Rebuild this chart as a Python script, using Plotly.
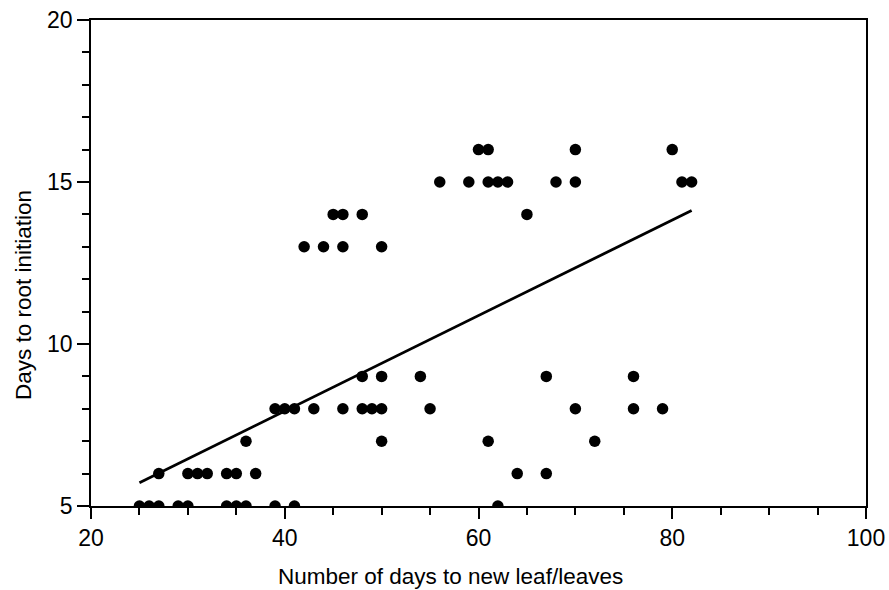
import plotly.graph_objects as go

# Observations: days to new leaf/leaves (x) vs days to root initiation (y)
x_y5 = [25, 26, 27, 29, 30, 34, 35, 36, 39, 41, 62]
x_y6 = [27, 30, 31, 32, 34, 35, 37, 64, 67]
x_y7 = [36, 50, 61, 72]
x_y8 = [39, 40, 41, 43, 46, 48, 49, 50, 55, 70, 76, 79]
x_y9 = [48, 50, 54, 67, 76]
x_y13 = [42, 44, 46, 50]
x_y14 = [45, 46, 48, 65]
x_y15 = [56, 59, 61, 62, 63, 68, 70, 81, 82]
x_y16 = [60, 61, 70, 80]

rows = {5: x_y5, 6: x_y6, 7: x_y7, 8: x_y8, 9: x_y9,
        13: x_y13, 14: x_y14, 15: x_y15, 16: x_y16}

xs, ys = [], []
for yv, xl in rows.items():
    xs += xl
    ys += [yv] * len(xl)

# Fitted trend line endpoints
fit_x = [25, 82]
fit_y = [5.72, 14.12]

x_ticks = [20, 40, 60, 80, 100]
y_ticks = [5, 10, 15, 20]

x_title = "Number of days to new leaf/leaves"
y_title = "Days to root initiation"

fig = go.Figure()
fig.add_trace(go.Scatter(x=fit_x, y=fit_y, mode="lines",
                         line=dict(color="black", width=2.8), showlegend=False))
fig.add_trace(go.Scatter(x=xs, y=ys, mode="markers",
                         marker=dict(color="black", size=11.5), showlegend=False))

fam = "Liberation Sans, Arial, sans-serif"

fig.update_layout(
    width=889, height=590,
    margin=dict(l=91, r=23, t=20, b=84),
    plot_bgcolor="white", paper_bgcolor="white",
    font=dict(family=fam, size=22, color="black"),
    xaxis=dict(range=[20, 100], tickvals=x_ticks, ticks="outside", ticklen=11,
               tickwidth=1.5, tickcolor="black", showgrid=False, zeroline=False,
               showline=True, linecolor="black", linewidth=1.5, mirror=True,
               automargin=False,
               minor=dict(dtick=5, ticks="outside", ticklen=7, tickwidth=1.5, tickcolor="black"),
               tickfont=dict(family=fam, size=23)),
    yaxis=dict(range=[5, 20], tickvals=y_ticks, ticks="outside", ticklen=12,
               tickwidth=1.5, tickcolor="black", showgrid=False, zeroline=False,
               showline=True, linecolor="black", linewidth=1.5, mirror=True,
               automargin=False,
               minor=dict(dtick=1, ticks="outside", ticklen=7, tickwidth=1.5, tickcolor="black"),
               tickfont=dict(family=fam, size=23)),
    annotations=[
        dict(text=x_title, xref="paper", yref="paper", x=0.4645, y=-0.146,
             xanchor="center", yanchor="middle", showarrow=False,
             font=dict(family=fam, size=22.5, color="black")),
        dict(text=y_title, xref="paper", yref="paper", x=-0.0877, y=0.434,
             xanchor="center", yanchor="middle", showarrow=False, textangle=-90,
             font=dict(family=fam, size=22.5, color="black")),
    ],
)

fig.write_html("out.html", config={"displayModeBar": False},
               post_script="document.body.style.margin='0';")
